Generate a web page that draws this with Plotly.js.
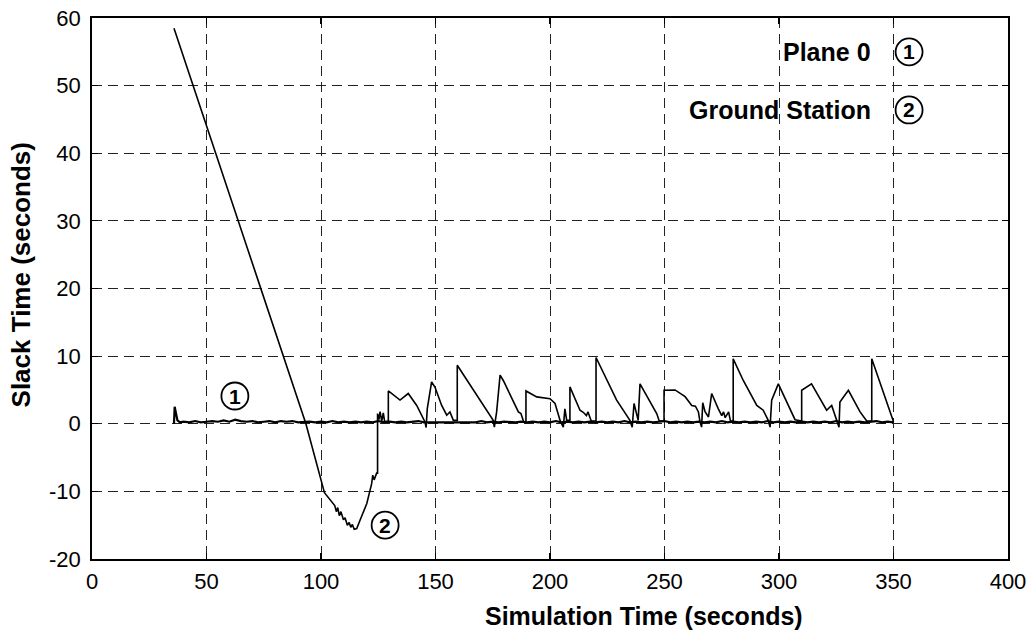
<!DOCTYPE html>
<html>
<head>
<meta charset="utf-8">
<script src="https://cdn.plot.ly/plotly-3.0.1.min.js"></script>
<style>html,body{margin:0;padding:0;background:#fff;}#chart{width:1032px;height:637px;}</style>
</head>
<body>
<div id="chart"></div>
<script>
// Ground Station (2) slack time
var groundX = [35.8, 93.4, 101.5, 106.0, 106.7, 107.3, 108.0, 108.7, 109.8, 110.5, 111.5, 112.3, 113.0, 113.7, 114.5, 115.6,
  117.0, 120.0, 122.1, 122.6, 123.2, 124.3, 124.7, 124.7, 125.3, 125.8, 126.5, 127.2, 127.8, 128.6, 129.4, 129.4,
  134.5, 138.1, 141.8, 145.4, 145.9, 146.4, 148.3, 149.8, 152.7, 154.9, 156.3, 157.8, 159.5, 159.5,
  175.2, 175.7, 176.7, 178.2, 179.6, 186.2, 187.3, 188.5, 189.5, 189.5,
  194.2, 200.0, 202.2, 204.4, 205.8, 206.5, 207.3, 208.7, 208.7,
  213.1, 214.5, 215.9, 216.6, 218.0, 220.1, 220.1,
  229.1, 234.9, 235.9, 236.7, 237.8, 238.5, 239.3, 246.6, 247.7, 249.8, 249.8,
  254.6, 259.0, 261.9, 263.5, 264.8, 265.5, 266.2, 266.7, 267.7, 269.2, 270.6, 273.5, 275.0, 275.8, 276.5, 278.0, 278.8, 280.0, 280.0,
  284.4, 290.3, 293.1, 295.3, 296.1, 296.8, 299.7, 307.0, 309.9, 309.9,
  314.2, 320.8, 323.0, 325.2, 326.2, 326.6, 330.3, 335.4, 336.8, 338.3, 340.5, 340.5, 350.0];
var groundY = [58.5, 0.0, -10.2, -12.1, -13.0, -12.4, -13.6, -13.0, -14.2, -13.9, -15.0, -14.6, -15.3, -14.9, -15.6, -15.5,
  -14.3, -11.8, -8.9, -7.6, -8.3, -7.3, -7.3, 1.5, 0.6, 1.8, 0.4, 1.6, 0.3, 0.4, 0.4, 4.85,
  3.5, 4.47, 2.7, 0.27, -0.56, 2.2, 6.2, 5.4, 2.7, 1.26, 1.75, 0.5, 0.5, 8.65,
  0.5, -0.5, 1.75, 7.2, 6.4, 1.75, 1.5, 0.3, 0.3, 4.85,
  3.97, 3.7, 3.0, 0.5, -0.5, 2.2, 0.5, 0.5, 5.45,
  2.0, 1.7, 1.2, 1.75, 0.4, 0.4, 9.8,
  3.5, 0.5, -0.5, 3.0, 1.7, 0.5, 5.9, 1.5, 0.4, 0.4, 4.95,
  5.0, 4.0, 2.7, 2.6, 1.75, 0.3, -0.5, 3.1, 1.8, 1.0, 4.47, 2.2, 1.2, 1.75, 0.9, 1.75, 0.4, 0.4, 9.6,
  6.4, 2.7, 2.0, 0.5, -0.5, 3.5, 5.9, 0.6, 0.4, 4.95,
  5.9, 2.0, 2.7, 0.5, -0.5, 3.2, 4.95, 1.75, 1.0, 0.4, 0.4, 9.6, 0.3];

// Plane 0 (1) slack time
var planeX = [35.8, 36.1, 37.3, 38.4, 40.0, 42.5, 45.0, 47.5, 50.0, 52.5, 55.0, 57.5, 60.0, 62.5, 65.0, 67.5, 70.0, 72.5, 75.0, 77.5,
  80.0, 82.5, 85.0, 87.5, 90.0, 92.5, 95.0, 97.5, 100.0, 102.5, 105.0, 107.5, 110.0, 112.5, 115.0, 117.5, 120.0, 122.5, 125.0, 127.5,
  130.0, 132.5, 135.0, 137.5, 140.0, 142.5, 145.0, 147.5, 150.0, 152.5, 155.0, 157.5, 160.0, 162.5, 165.0, 167.5, 170.0, 172.5, 175.0, 177.5,
  180.0, 182.5, 185.0, 187.5, 190.0, 192.5, 195.0, 197.5, 200.0, 202.5, 205.0, 207.5, 210.0, 212.5, 215.0, 217.5, 220.0, 222.5, 225.0, 227.5,
  230.0, 232.5, 235.0, 237.5, 240.0, 242.5, 245.0, 247.5, 250.0, 252.5, 255.0, 257.5, 260.0, 262.5, 265.0, 267.5, 270.0, 272.5, 275.0, 277.5,
  280.0, 282.5, 285.0, 287.5, 290.0, 292.5, 295.0, 297.5, 300.0, 302.5, 305.0, 307.5, 310.0, 312.5, 315.0, 317.5, 320.0, 322.5, 325.0, 327.5,
  330.0, 332.5, 335.0, 337.5, 340.0, 342.5, 345.0, 347.5, 350.0];
var planeY = [0.0, 2.5, 0.5, 0.2, 0.3, 0.2, 0.4, 0.2, 0.3, 0.4, 0.3, 0.5, 0.3, 0.6, 0.4, 0.3, 0.4, 0.2, 0.3, 0.4,
  0.2, 0.4, 0.3, 0.4, 0.2, 0.3, 0.3, 0.2, 0.3, 0.2, 0.4, 0.2, 0.3, 0.2, 0.3, 0.2, 0.3, 0.2, 0.4, 0.2,
  0.3, 0.2, 0.3, 0.2, 0.3, 0.4, 0.2, 0.2, 0.3, 0.2, 0.3, 0.2, 0.3, 0.2, 0.3, 0.2, 0.4, 0.2, 0.3, 0.2,
  0.3, 0.2, 0.2, 0.3, 0.2, 0.3, 0.2, 0.3, 0.2, 0.4, 0.2, 0.3, 0.2, 0.3, 0.2, 0.3, 0.2, 0.3, 0.2, 0.3,
  0.2, 0.4, 0.2, 0.3, 0.2, 0.3, 0.2, 0.3, 0.4, 0.2, 0.3, 0.2, 0.3, 0.2, 0.3, 0.2, 0.3, 0.2, 0.4, 0.2,
  0.3, 0.2, 0.3, 0.2, 0.3, 0.2, 0.4, 0.2, 0.3, 0.2, 0.3, 0.2, 0.3, 0.2, 0.3, 0.2, 0.3, 0.2, 0.4, 0.2,
  0.3, 0.2, 0.3, 0.2, 0.3, 0.4, 0.2, 0.3, 0.2];

var xTicks = [0, 50, 100, 150, 200, 250, 300, 350, 400];
var xTickText = ["0", "50", "100", "150", "200", "250", "300", "350", "400"];
var yTicks = [-20, -10, 0, 10, 20, 30, 40, 50, 60];
var yTickText = ["-20", "-10", "0", "10", "20", "30", "40", "50", "60"];

var seriesNames = ["Plane 0", "Ground Station"];
var seriesMarks = ["1", "2"];

var traces = [
  {x: planeX, y: planeY, type: "scatter", mode: "lines", name: seriesNames[0], line: {color: "#000", width: 2.2}, hoverinfo: "x+y"},
  {x: groundX, y: groundY, type: "scatter", mode: "lines", name: seriesNames[1], line: {color: "#000", width: 1.6}, hoverinfo: "x+y"}
];

// circled labels: [x, y] in data space
var circlePos = [[62.4, 4.1], [128.0, -15.0], [356.8, 55.0], [356.8, 46.4]];
var circleText = [seriesMarks[0], seriesMarks[1], seriesMarks[0], seriesMarks[1]];

var FONT = "Liberation Sans, Arial, sans-serif";
var shapes = circlePos.map(function (p) {
  return {type: "circle", xref: "x", yref: "y", xsizemode: "pixel", ysizemode: "pixel",
    xanchor: p[0], yanchor: p[1], x0: -13.5, x1: 13.5, y0: -13.5, y1: 13.5,
    line: {color: "#000", width: 1.8}, fillcolor: "rgba(0,0,0,0)"};
});

var annotations = circlePos.map(function (p, i) {
  return {x: p[0], y: p[1], xref: "x", yref: "y", text: "<b>" + circleText[i] + "</b>", showarrow: false,
    font: {family: FONT, size: 21, color: "#000"}, xanchor: "center", yanchor: "middle"};
});
annotations.push({x: 341, y: 55.0, xref: "x", yref: "y", text: "<b>" + seriesNames[0] + "</b>", showarrow: false,
  xanchor: "right", yanchor: "middle", font: {family: FONT, size: 25, color: "#000"}});
annotations.push({x: 341, y: 46.4, xref: "x", yref: "y", text: "<b>" + seriesNames[1] + "</b>", showarrow: false,
  xanchor: "right", yanchor: "middle", font: {family: FONT, size: 25, color: "#000"}});
// axis titles
annotations.push({x: 0.603, y: -0.106, xref: "paper", yref: "paper", yanchor: "middle", xanchor: "center",
  text: "<b>Simulation Time (seconds)</b>", showarrow: false, font: {family: FONT, size: 25, color: "#000"}});
annotations.push({x: -0.077, y: 0.525, xref: "paper", yref: "paper", yanchor: "middle", xanchor: "center",
  text: "<b>Slack Time (seconds)</b>", showarrow: false, textangle: -90, font: {family: FONT, size: 26, color: "#000"}});

var axisCommon = {
  showline: true, linecolor: "#000", linewidth: 1.8, mirror: "ticks",
  ticks: "inside", ticklen: 6, tickcolor: "#000", tickwidth: 1.2,
  showgrid: true, gridcolor: "#222", gridwidth: 1, griddash: "10px,6px",
  zeroline: false, tickfont: {family: FONT, size: 22, color: "#000"}
};

var layout = {
  width: 1032, height: 637,
  margin: {l: 92, r: 24, t: 18, b: 78},
  paper_bgcolor: "#fff", plot_bgcolor: "#fff",
  showlegend: false,
  xaxis: Object.assign({}, axisCommon, {range: [0, 400], tickvals: xTicks, ticktext: xTickText, ticklabelstandoff: 2}),
  yaxis: Object.assign({}, axisCommon, {range: [-20, 60], tickvals: yTicks, ticktext: yTickText, ticklabelstandoff: 5}),
  shapes: shapes,
  annotations: annotations
};

Plotly.newPlot("chart", traces, layout, {displayModeBar: false, staticPlot: true});
</script>
</body>
</html>
